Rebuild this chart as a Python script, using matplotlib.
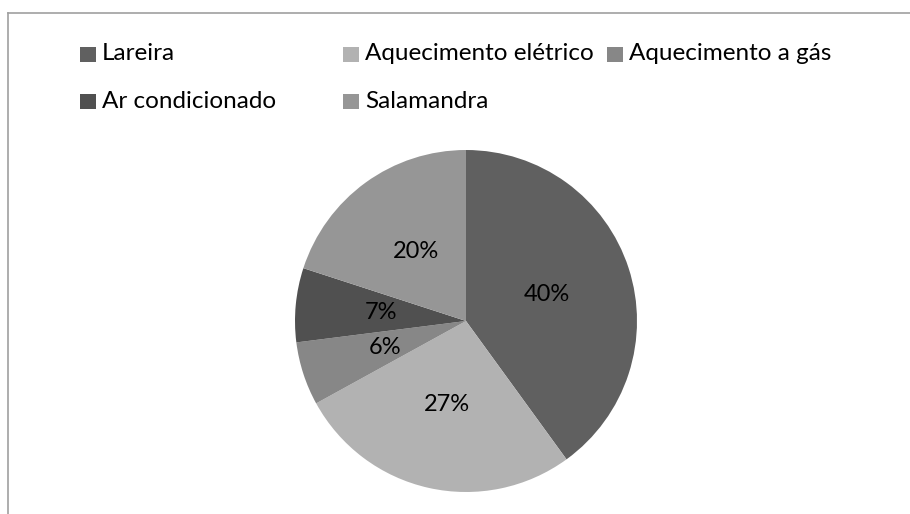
import matplotlib
matplotlib.use('Agg')
import numpy as np
import matplotlib.pyplot as plt
from matplotlib.patches import Rectangle
from matplotlib.lines import Line2D

categories = ['Lareira', 'Aquecimento elétrico', 'Aquecimento a gás',
              'Ar condicionado', 'Salamandra']
values = [40, 27, 6, 7, 20]
labels = ['40%', '27%', '6%', '7%', '20%']
colors = ['#606060', '#b2b2b2', '#878787', '#505050', '#969696']

# legend slot positions in pixels (x of square, y of row centre)
legend_pos = [(80, 54), (343, 54), (607, 54), (80, 101), (343, 101)]

W, H = 910, 514
plt.rcParams['font.family'] = ['Lato', 'DejaVu Sans']

fig = plt.figure(figsize=(W / 100, H / 100), dpi=100)

# chart frame: only top and left edges are visible
fig.add_artist(Line2D([8 / W, 1], [1 - 12.5 / H, 1 - 12.5 / H],
                      color='#a0a0a0', lw=1.2, transform=fig.transFigure))
fig.add_artist(Line2D([8 / W, 8 / W], [0, 1 - 12.5 / H],
                      color='#a0a0a0', lw=1.2, transform=fig.transFigure))

cx, cy, r = 466, 321, 171
ax = fig.add_axes([(cx - r) / W, (H - cy - r) / H, 2 * r / W, 2 * r / H])
wedges, _ = ax.pie(values, colors=colors, startangle=90, counterclock=False,
                   wedgeprops=dict(linewidth=0))
ax.set_xlim(-1, 1)
ax.set_ylim(-1, 1)
ax.set_aspect('equal')
ax.axis('off')

for w, lab in zip(wedges, labels):
    ang = np.deg2rad((w.theta1 + w.theta2) / 2)
    ax.text(0.5 * np.cos(ang), 0.5 * np.sin(ang), lab, ha='center',
            va='center', fontsize=17, color='black')

for (x, y), name, c in zip(legend_pos, categories, colors):
    fig.add_artist(Rectangle((x / W, 1 - (y + 7.5) / H), 16 / W, 15 / H,
                             facecolor=c, edgecolor='none',
                             transform=fig.transFigure))
    fig.text((x + 22) / W, 1 - y / H, name, ha='left', va='center',
             fontsize=17.5, color='black')

fig.savefig('out.png', dpi=100)
